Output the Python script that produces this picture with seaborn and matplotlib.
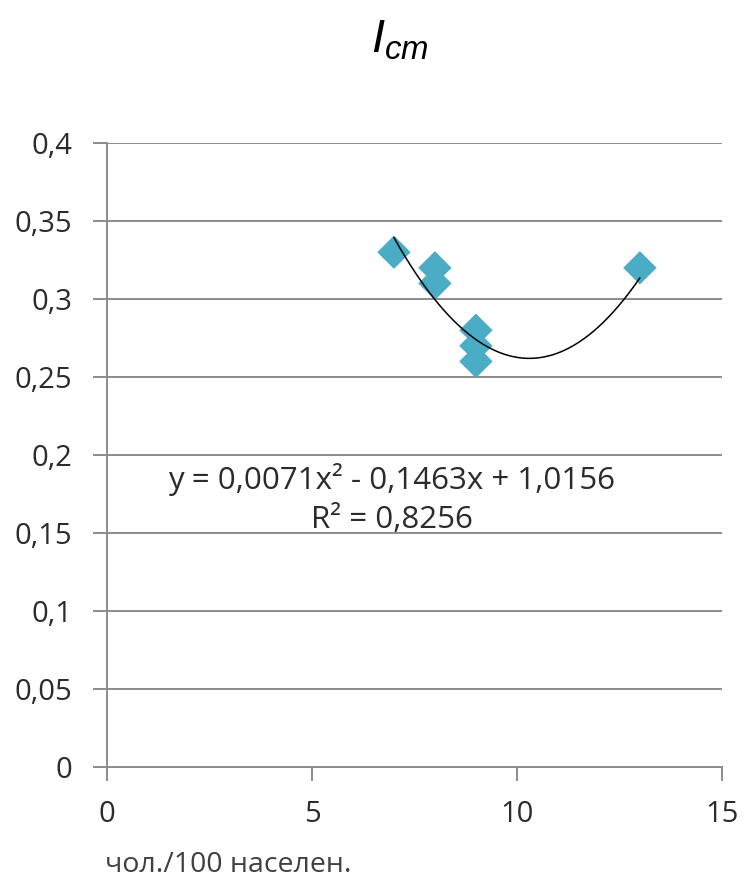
import numpy as np
import pandas as pd
import matplotlib
matplotlib.use("Agg")
import matplotlib.pyplot as plt
import seaborn as sns

# Observations
x_vals = [7, 8, 8, 9, 9, 9, 13]
y_vals = [0.33, 0.32, 0.31, 0.28, 0.27, 0.26, 0.32]

# Quadratic trend coefficients (a*x^2 + b*x + c) and fit quality
trend_coef = [0.0071, -0.1463, 1.0156]
r_squared = 0.8256

x_ticks = [0, 5, 10, 15]
y_ticks = [0, 0.05, 0.1, 0.15, 0.2, 0.25, 0.3, 0.35, 0.4]

sns.set_theme(style="white")
plt.rcParams["font.family"] = ["Open Sans", "DejaVu Sans"]
plt.rcParams["mathtext.fontset"] = "custom"
plt.rcParams["mathtext.it"] = "Liberation Sans:italic"
plt.rcParams["mathtext.rm"] = "Liberation Sans"

df = pd.DataFrame({"x": x_vals, "y": y_vals})

fig = plt.figure(figsize=(7.45, 8.84), dpi=100)
ax = fig.add_axes([0.1436, 0.1324, 0.8254, 0.7058])

grid_c = "#8c8c8c"
for yv in y_ticks[1:]:
    ax.axhline(yv, color=grid_c, lw=1.4, zorder=0)

# Trend curve over the observed x-range
xs = np.linspace(min(x_vals), max(x_vals), 200)
ys = np.polyval(trend_coef, xs)
sns.lineplot(x=xs, y=ys, ax=ax, color="black", lw=1.1, zorder=3)

sns.scatterplot(data=df, x="x", y="y", ax=ax, marker="D", s=17 ** 2,
                color="#4BACC6", edgecolor="none", zorder=2)

ax.set_xlim(0, 15)
ax.set_ylim(0, 0.4)
ax.set_xticks(x_ticks)
ax.set_yticks(y_ticks)
ax.set_xticklabels([str(t) for t in x_ticks])
ax.set_yticklabels([("%g" % t).replace(".", ",") for t in y_ticks])
ax.tick_params(axis="both", which="major", direction="out", length=10,
               width=1.4, color=grid_c, labelsize=21, labelcolor="#2b2b2b",
               left=True, bottom=True)
ax.tick_params(axis="x", pad=14)
ax.tick_params(axis="y", pad=15)
for side in ["top", "right"]:
    ax.spines[side].set_visible(False)
for side in ["left", "bottom"]:
    ax.spines[side].set_color(grid_c)
    ax.spines[side].set_linewidth(1.4)
ax.set_xlabel("")
ax.set_ylabel("")

a, b, c = trend_coef
eq = "y = {}x² - {}x + {}".format(
    ("%.4f" % a).replace(".", ","),
    ("%.4f" % abs(b)).replace(".", ","),
    ("%.4f" % c).replace(".", ","))
ax.text(6.95, 0.184, eq, ha="center", va="center", fontsize=22.5, color="#2b2b2b")
ax.text(6.95, 0.1583, "R² = " + ("%.4f" % r_squared).replace(".", ","),
        ha="center", va="center", fontsize=22.5, color="#2b2b2b")

fig.text(0.537, 0.955, r"$I_{cm}$", ha="center", va="center", fontsize=34,
         color="black")
fig.text(0.307, 0.021, "чол./100 населен.", ha="center", va="center",
         fontsize=20.5, color="#404040")

fig.savefig("out.png", dpi=100)
